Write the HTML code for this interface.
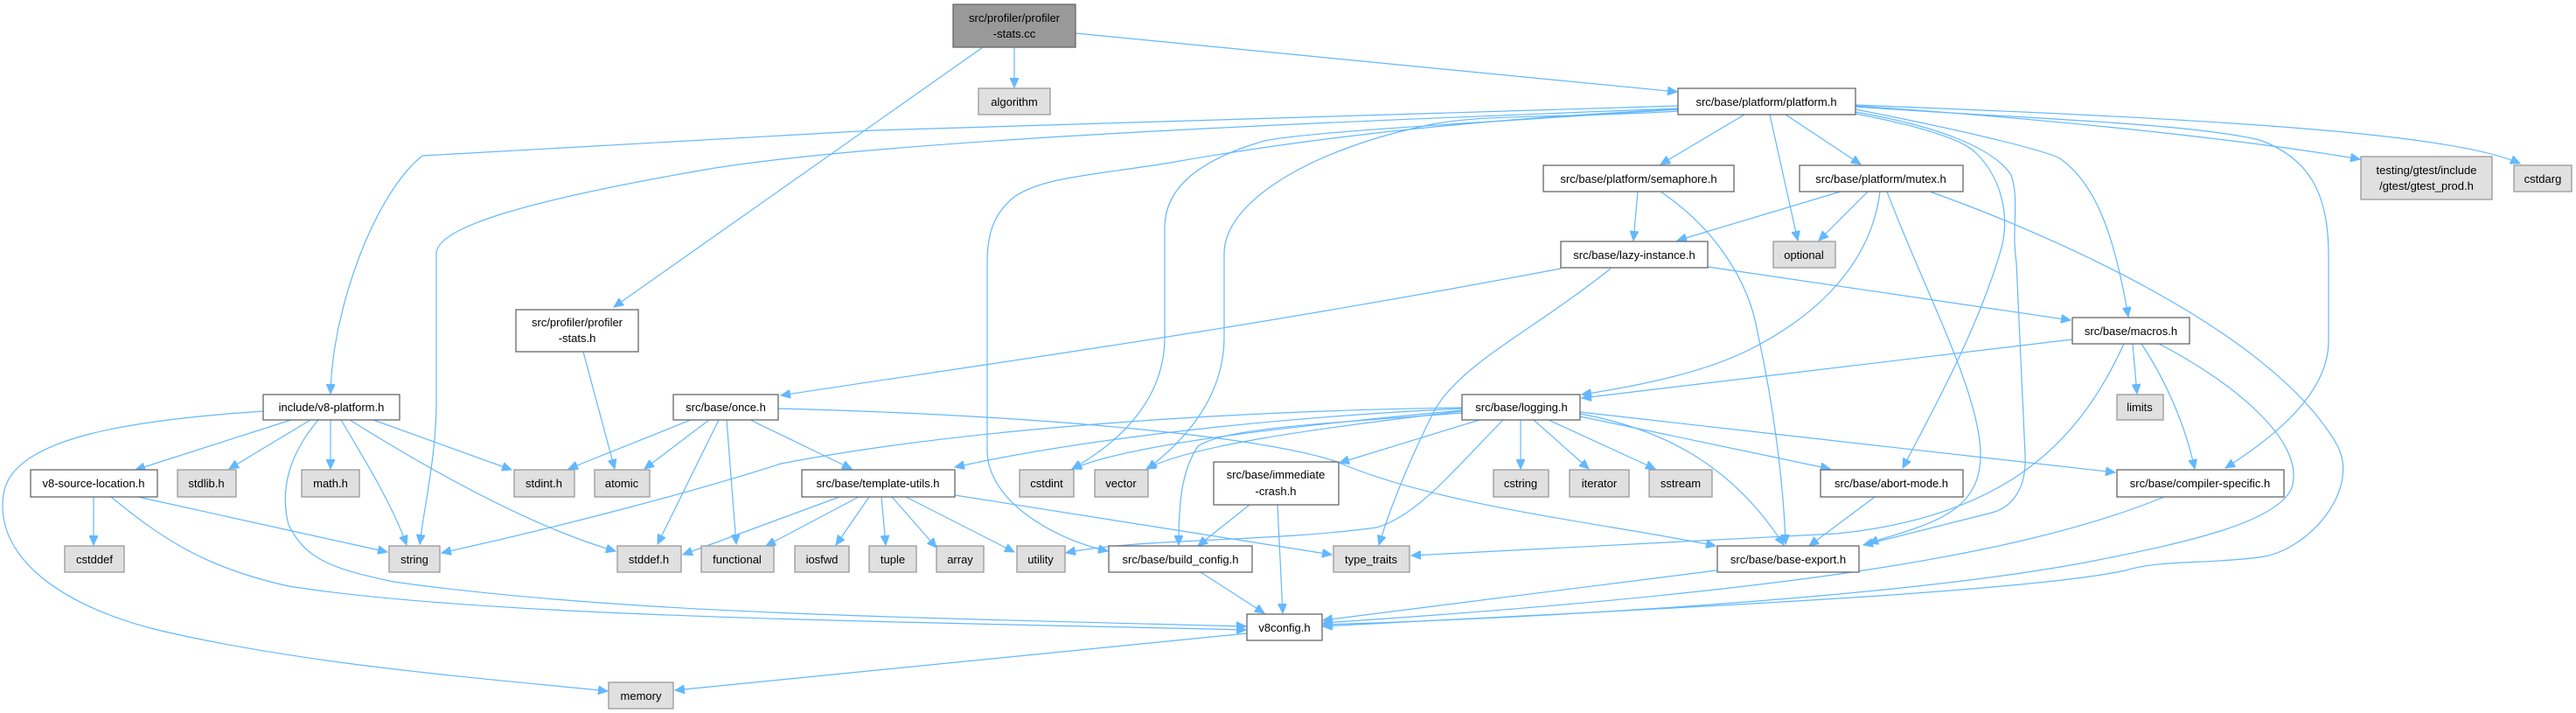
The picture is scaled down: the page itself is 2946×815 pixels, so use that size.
<!DOCTYPE html>
<html><head><meta charset="utf-8"><style>
html,body{margin:0;padding:0;background:#fff;}
svg{display:block;}
text{font-family:"Liberation Sans",sans-serif;font-size:13px;fill:#000;text-anchor:middle;}
.w{fill:#fff;stroke:#666;stroke-width:1.3;}
.g{fill:#e0e0e0;stroke:#999;stroke-width:1.3;}
.r{fill:#999;stroke:#666;stroke-width:1.3;}
path.e{fill:none;stroke:#63b8ff;stroke-width:1.2;marker-end:url(#a);}
</style></head><body>
<svg width="2946" height="815" viewBox="0 0 2946 815" xmlns="http://www.w3.org/2000/svg">
<defs><marker id="a" markerUnits="userSpaceOnUse" markerWidth="12" markerHeight="10" refX="11" refY="5" orient="auto"><path d="M0,0 L11,5 L0,10 z" fill="#63b8ff" stroke="#63b8ff"/></marker></defs>
<g>
<path class="e" d="M1160,54 L1160,100"/>
<path class="e" d="M1230,38 L1918,105"/>
<path class="e" d="M1124,54 L702,351"/>
<path class="e" d="M667,402 L703,536"/>
<path class="e" d="M1919,121 L1000,149 L483,178 C430,220 380,350 378,450"/>
<path class="e" d="M1919,124 C1500,140 1000,160 800,195 C600,230 499,260 499,290 L499,460 C499,520 485,580 480,622"/>
<path class="e" d="M1919,125 C1600,140 1400,175 1332,187 C1250,200 1191,203 1160,225 C1135,245 1129,270 1129,300 L1129,515 C1129,570 1200,615 1267,630"/>
<path class="e" d="M1919,125 C1700,140 1500,150 1446,161 C1380,180 1332,210 1332,260 L1332,385 C1332,450 1290,500 1226,536"/>
<path class="e" d="M1919,127 C1800,135 1700,130 1638,142 C1500,170 1400,230 1400,290 L1400,385 C1400,450 1360,500 1312,536"/>
<path class="e" d="M1995,131 L1899,188"/>
<path class="e" d="M2042,131 L2128,188"/>
<path class="e" d="M2024,131 L2056,275"/>
<path class="e" d="M2122,125 C2250,150 2330,170 2354,180 C2400,210 2420,280 2434,362"/>
<path class="e" d="M2122,130 C2200,145 2245,160 2260,175 C2290,205 2300,250 2287,290 C2260,380 2210,470 2176,535"/>
<path class="e" d="M2122,128 C2220,145 2280,170 2300,200 C2310,230 2300,260 2306,300 L2316,520 C2318,560 2300,580 2278,586 L2131,623"/>
<path class="e" d="M2122,122 C2300,135 2500,140 2584,160 C2640,180 2663,220 2663,291 L2663,390 C2663,450 2600,500 2545,535"/>
<path class="e" d="M2122,121 C2400,140 2600,165 2699,182"/>
<path class="e" d="M2122,120 C2500,135 2800,150 2882,187"/>
<path class="e" d="M1873,219 L1868,275"/>
<path class="e" d="M1899,219 C1960,260 2000,320 2010,380 C2030,470 2040,560 2042,622"/>
<path class="e" d="M2105,219 L1918,275"/>
<path class="e" d="M2136,219 L2080,275"/>
<path class="e" d="M2150,219 C2140,300 2080,360 2000,400 C1950,425 1880,440 1809,451"/>
<path class="e" d="M2158,219 C2200,330 2265,450 2265,520 C2265,590 2200,600 2137,621"/>
<path class="e" d="M2207,219 C2350,270 2600,380 2673,509 C2700,560 2640,630 2584,637 C2520,645 2470,640 2431,652 C2300,680 1800,700 1513,716"/>
<path class="e" d="M1785,307 C1400,380 1100,420 893,452"/>
<path class="e" d="M1842,307 C1750,380 1670,416 1640,470 C1610,530 1590,580 1577,623"/>
<path class="e" d="M1953,305 L2368,366"/>
<path class="e" d="M2370,388 L1809,455"/>
<path class="e" d="M2439,393 L2444,450"/>
<path class="e" d="M2449,393 C2480,440 2500,490 2510,536"/>
<path class="e" d="M2429,393 C2380,500 2300,590 2100,610 L1614,635"/>
<path class="e" d="M2469,393 C2560,440 2640,509 2620,560 C2600,598 2500,620 2400,640 C2200,680 1800,705 1513,714"/>
<path class="e" d="M2475,568 C2300,640 2000,680 1513,712"/>
<path class="e" d="M1963,652 L1513,709"/>
<path class="e" d="M790,480 L650,536"/>
<path class="e" d="M811,480 L737,536"/>
<path class="e" d="M822,480 L752,622"/>
<path class="e" d="M831,480 L842,622"/>
<path class="e" d="M858,480 L974,536"/>
<path class="e" d="M890,467 C1200,475 1450,500 1529,528 C1650,580 1850,600 1962,624"/>
<path class="e" d="M1672,466 C1400,470 1100,490 893,530 C800,560 650,600 505,632"/>
<path class="e" d="M1672,467 C1400,480 1200,510 1092,534"/>
<path class="e" d="M1672,469 C1500,485 1300,505 1226,536"/>
<path class="e" d="M1672,470 C1500,490 1360,510 1311,536"/>
<path class="e" d="M1692,480 L1532,529"/>
<path class="e" d="M1672,472 C1500,485 1400,490 1370,510 C1350,540 1348,580 1348,623"/>
<path class="e" d="M1719,480 C1660,540 1620,590 1574,603 C1450,620 1300,615 1219,632"/>
<path class="e" d="M1739,480 L1739,536"/>
<path class="e" d="M1754,480 L1817,536"/>
<path class="e" d="M1771,480 L1893,536"/>
<path class="e" d="M1807,473 C1900,490 1980,530 2040,623"/>
<path class="e" d="M1807,476 L2093,536"/>
<path class="e" d="M1807,471 L2419,540"/>
<path class="e" d="M333,480 L155,537"/>
<path class="e" d="M355,480 L262,536"/>
<path class="e" d="M378,480 L378,536"/>
<path class="e" d="M390,480 C420,530 450,580 465,623"/>
<path class="e" d="M427,480 L585,537"/>
<path class="e" d="M400,480 C480,530 600,600 704,630"/>
<path class="e" d="M301,470 C150,480 20,500 5,560 C-10,630 60,690 180,720 C350,760 550,775 695,790"/>
<path class="e" d="M364,480 C330,520 320,560 330,600 C350,640 380,650 450,665 C700,700 1000,705 1425,716"/>
<path class="e" d="M107,568 L107,623"/>
<path class="e" d="M158,568 L443,631"/>
<path class="e" d="M127,568 C190,620 240,650 330,670 C550,705 1000,710 1425,720"/>
<path class="e" d="M960,568 L781,634"/>
<path class="e" d="M982,568 L876,624"/>
<path class="e" d="M994,568 L956,623"/>
<path class="e" d="M1008,568 L1013,623"/>
<path class="e" d="M1020,568 L1071,626"/>
<path class="e" d="M1036,568 L1160,631"/>
<path class="e" d="M1092,566 L1523,634"/>
<path class="e" d="M1429,577 L1370,624"/>
<path class="e" d="M1461,577 L1467,701"/>
<path class="e" d="M1373,654 L1446,701"/>
<path class="e" d="M2144,568 L2069,624"/>
<path class="e" d="M1426,724 L772,789"/>
</g>
<g>
<rect class="r" x="1090" y="5" width="140" height="49"/><text x="1160" y="25">src/profiler/profiler</text><text x="1160" y="43">-stats.cc</text>
<rect class="g" x="1119" y="101" width="82" height="30"/><text x="1160" y="121">algorithm</text>
<rect class="w" x="1919" y="101" width="203" height="30"/><text x="2020" y="121">src/base/platform/platform.h</text>
<rect class="w" x="590" y="354" width="140" height="48"/><text x="660" y="373">src/profiler/profiler</text><text x="660" y="391">-stats.h</text>
<rect class="w" x="301" y="451" width="156" height="29"/><text x="379" y="470">include/v8-platform.h</text>
<rect class="w" x="770" y="451" width="120" height="29"/><text x="830" y="470">src/base/once.h</text>
<rect class="w" x="1765" y="189" width="218" height="30"/><text x="1874" y="209">src/base/platform/semaphore.h</text>
<rect class="w" x="2058" y="189" width="187" height="30"/><text x="2151" y="209">src/base/platform/mutex.h</text>
<rect class="g" x="2028" y="276" width="71" height="30"/><text x="2063" y="296">optional</text>
<rect class="g" x="2700" y="179" width="150" height="49"/><text x="2775" y="199">testing/gtest/include</text><text x="2775" y="217">/gtest/gtest_prod.h</text>
<rect class="g" x="2875" y="189" width="66" height="30"/><text x="2908" y="209">cstdarg</text>
<rect class="w" x="1785" y="276" width="168" height="30"/><text x="1869" y="296">src/base/lazy-instance.h</text>
<rect class="w" x="2370" y="363" width="134" height="30"/><text x="2437" y="383">src/base/macros.h</text>
<rect class="g" x="2421" y="451" width="53" height="29"/><text x="2447" y="470">limits</text>
<rect class="w" x="1672" y="451" width="135" height="29"/><text x="1740" y="470">src/base/logging.h</text>
<rect class="w" x="35" y="537" width="145" height="31"/><text x="107" y="557">v8-source-location.h</text>
<rect class="g" x="203" y="537" width="67" height="31"/><text x="236" y="557">stdlib.h</text>
<rect class="g" x="345" y="537" width="66" height="31"/><text x="378" y="557">math.h</text>
<rect class="g" x="588" y="537" width="69" height="31"/><text x="622" y="557">stdint.h</text>
<rect class="g" x="680" y="537" width="63" height="31"/><text x="711" y="557">atomic</text>
<rect class="w" x="917" y="537" width="175" height="31"/><text x="1004" y="557">src/base/template-utils.h</text>
<rect class="g" x="1166" y="537" width="62" height="31"/><text x="1197" y="557">cstdint</text>
<rect class="g" x="1252" y="537" width="61" height="31"/><text x="1282" y="557">vector</text>
<rect class="w" x="1388" y="528" width="143" height="49"/><text x="1459" y="547">src/base/immediate</text><text x="1459" y="566">-crash.h</text>
<rect class="g" x="1708" y="537" width="63" height="31"/><text x="1739" y="557">cstring</text>
<rect class="g" x="1795" y="537" width="68" height="31"/><text x="1829" y="557">iterator</text>
<rect class="g" x="1886" y="537" width="72" height="31"/><text x="1922" y="557">sstream</text>
<rect class="w" x="2082" y="537" width="163" height="31"/><text x="2163" y="557">src/base/abort-mode.h</text>
<rect class="w" x="2421" y="537" width="191" height="31"/><text x="2516" y="557">src/base/compiler-specific.h</text>
<rect class="g" x="74" y="624" width="68" height="30"/><text x="108" y="644">cstddef</text>
<rect class="g" x="445" y="624" width="58" height="30"/><text x="474" y="644">string</text>
<rect class="g" x="706" y="624" width="73" height="30"/><text x="742" y="644">stddef.h</text>
<rect class="g" x="802" y="624" width="83" height="30"/><text x="843" y="644">functional</text>
<rect class="g" x="909" y="624" width="62" height="30"/><text x="940" y="644">iosfwd</text>
<rect class="g" x="994" y="624" width="54" height="30"/><text x="1021" y="644">tuple</text>
<rect class="g" x="1071" y="624" width="54" height="30"/><text x="1098" y="644">array</text>
<rect class="g" x="1163" y="624" width="55" height="30"/><text x="1190" y="644">utility</text>
<rect class="w" x="1268" y="624" width="164" height="30"/><text x="1350" y="644">src/base/build_config.h</text>
<rect class="g" x="1525" y="624" width="87" height="30"/><text x="1568" y="644">type_traits</text>
<rect class="w" x="1964" y="624" width="162" height="30"/><text x="2045" y="644">src/base/base-export.h</text>
<rect class="w" x="1426" y="702" width="86" height="30"/><text x="1469" y="722">v8config.h</text>
<rect class="g" x="696" y="780" width="74" height="30"/><text x="733" y="800">memory</text>
</g>
</svg>
</body></html>
